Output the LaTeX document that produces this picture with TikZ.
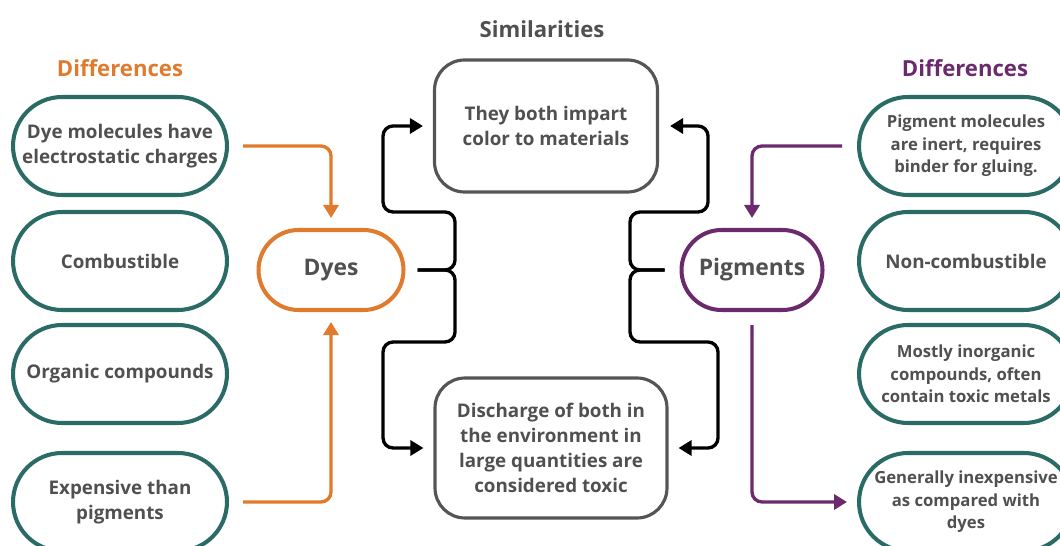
\documentclass[tikz,border=0pt]{standalone}
\usepackage{fontspec}
\setmainfont{Open Sans}
\usetikzlibrary{shapes.misc,arrows.meta}

\definecolor{diffteal}{HTML}{2B6B65}
\definecolor{dyeorange}{HTML}{E07A2C}
\definecolor{pigpurple}{HTML}{6C2A6E}
\definecolor{txtgray}{HTML}{505050}
\definecolor{boxgray}{HTML}{555555}

\tikzset{
    boxfont/.style={font=\bfseries\fontsize{10.7}{14.2}\selectfont, text=txtgray},
    smallfont/.style={font=\bfseries\fontsize{9.5}{12.8}\selectfont},
    diffbox/.style={rounded rectangle, draw=diffteal, line width=2.3pt, fill=white,
        minimum width=4.28cm, minimum height=1.96cm, inner sep=0pt, align=center, boxfont},
    simbox/.style={rectangle, rounded corners=0.6cm, draw=boxgray, line width=1.8pt,
        minimum height=2.64cm, inner sep=0pt, align=center, boxfont},
    mainbox/.style={rounded rectangle, line width=2.3pt, minimum height=1.6cm,
        inner sep=0pt, font=\bfseries\fontsize{13}{15}\selectfont, text=txtgray},
    headline/.style={font=\bfseries\fontsize{12.6}{14}\selectfont},
    link/.style={line width=1.9pt, rounded corners=0.2cm,
        -{Triangle[length=0.26cm, width=0.3cm]}},
}

\begin{document}
\begin{tikzpicture}[x=0.02cm, y=-0.02cm]
    \useasboundingbox (0,0) rectangle (1060,546);

    % headings
    \node[headline, text=txtgray] (simtitle) at (542,29) {Similarities};
    \node[headline, text=dyeorange] (difleft) at (120,68) {Differences};
    \node[headline, text=pigpurple] (difright) at (965,68) {Differences};

    % differences of dyes
    \foreach[count=\i] \y/\txt in {146/{Dye molecules have\\electrostatic charges},
            261/Combustible, 374/Organic compounds, 502/{Expensive than\\pigments}}
        \node[diffbox] (d\i) at (120,\y) {\txt};

    % differences of pigments
    \foreach[count=\i] \y/\sz/\txt in {146/smallfont/{Pigment molecules\\are inert, requires\\binder for gluing.},
            261/boxfont/Non-combustible, 374/smallfont/{Mostly inorganic\\compounds, often\\contain toxic metals},
            502/smallfont/{Generally inexpensive\\as compared with\\dyes}}
        \node[diffbox, \sz] (p\i) at (966,\y) {\txt};

    \node[mainbox, draw=dyeorange, minimum width=2.9cm] (dyes) at (331,270) {\raisebox{-2pt}{Dyes}};
    \node[mainbox, draw=pigpurple, minimum width=2.82cm] (pig) at (752,270) {\raisebox{-2pt}{Pigments}};

    % similarities
    \node[simbox, minimum width=4.46cm] (simtop) at (546,126) {They both impart\\color to materials};
    \node[simbox, minimum width=4.64cm, minimum height=2.8cm] (simbot) at (551,448)
        {Discharge of both in\\the environment in\\large quantities are\\considered toxic};

    % orange and purple arrows
    \draw[link, dyeorange, shorten <=0.28cm, shorten >=0.2cm] (d1.east) -| (dyes.north);
    \draw[link, dyeorange, shorten <=0.28cm, shorten >=0.2cm] (d4.east) -| (dyes.south);
    \draw[link, pigpurple, shorten <=0.3cm, shorten >=0.2cm] (p1.west) -| (pig.north);
    \draw[link, pigpurple, shorten <=0.26cm, shorten >=0.2cm] (pig.south) |- (p4.west);

    % black brackets
    \draw[link, shorten <=0.24cm, shorten >=0.2cm] (dyes.east) -- (455,270) |- (383,212) |- (simtop.west);
    \draw[link, shorten <=0.24cm, shorten >=0.2cm] (dyes.east) -- (455,270) |- (383,342) |- (simbot.west);
    \draw[link, shorten <=0.3cm, shorten >=0.22cm] (pig.west) -- (630,270) |- (708,212) |- (simtop.east);
    \draw[link, shorten <=0.3cm, shorten >=0.2cm] (pig.west) -- (630,270) |- (718,342) |- (simbot.east);
\end{tikzpicture}
\end{document}
